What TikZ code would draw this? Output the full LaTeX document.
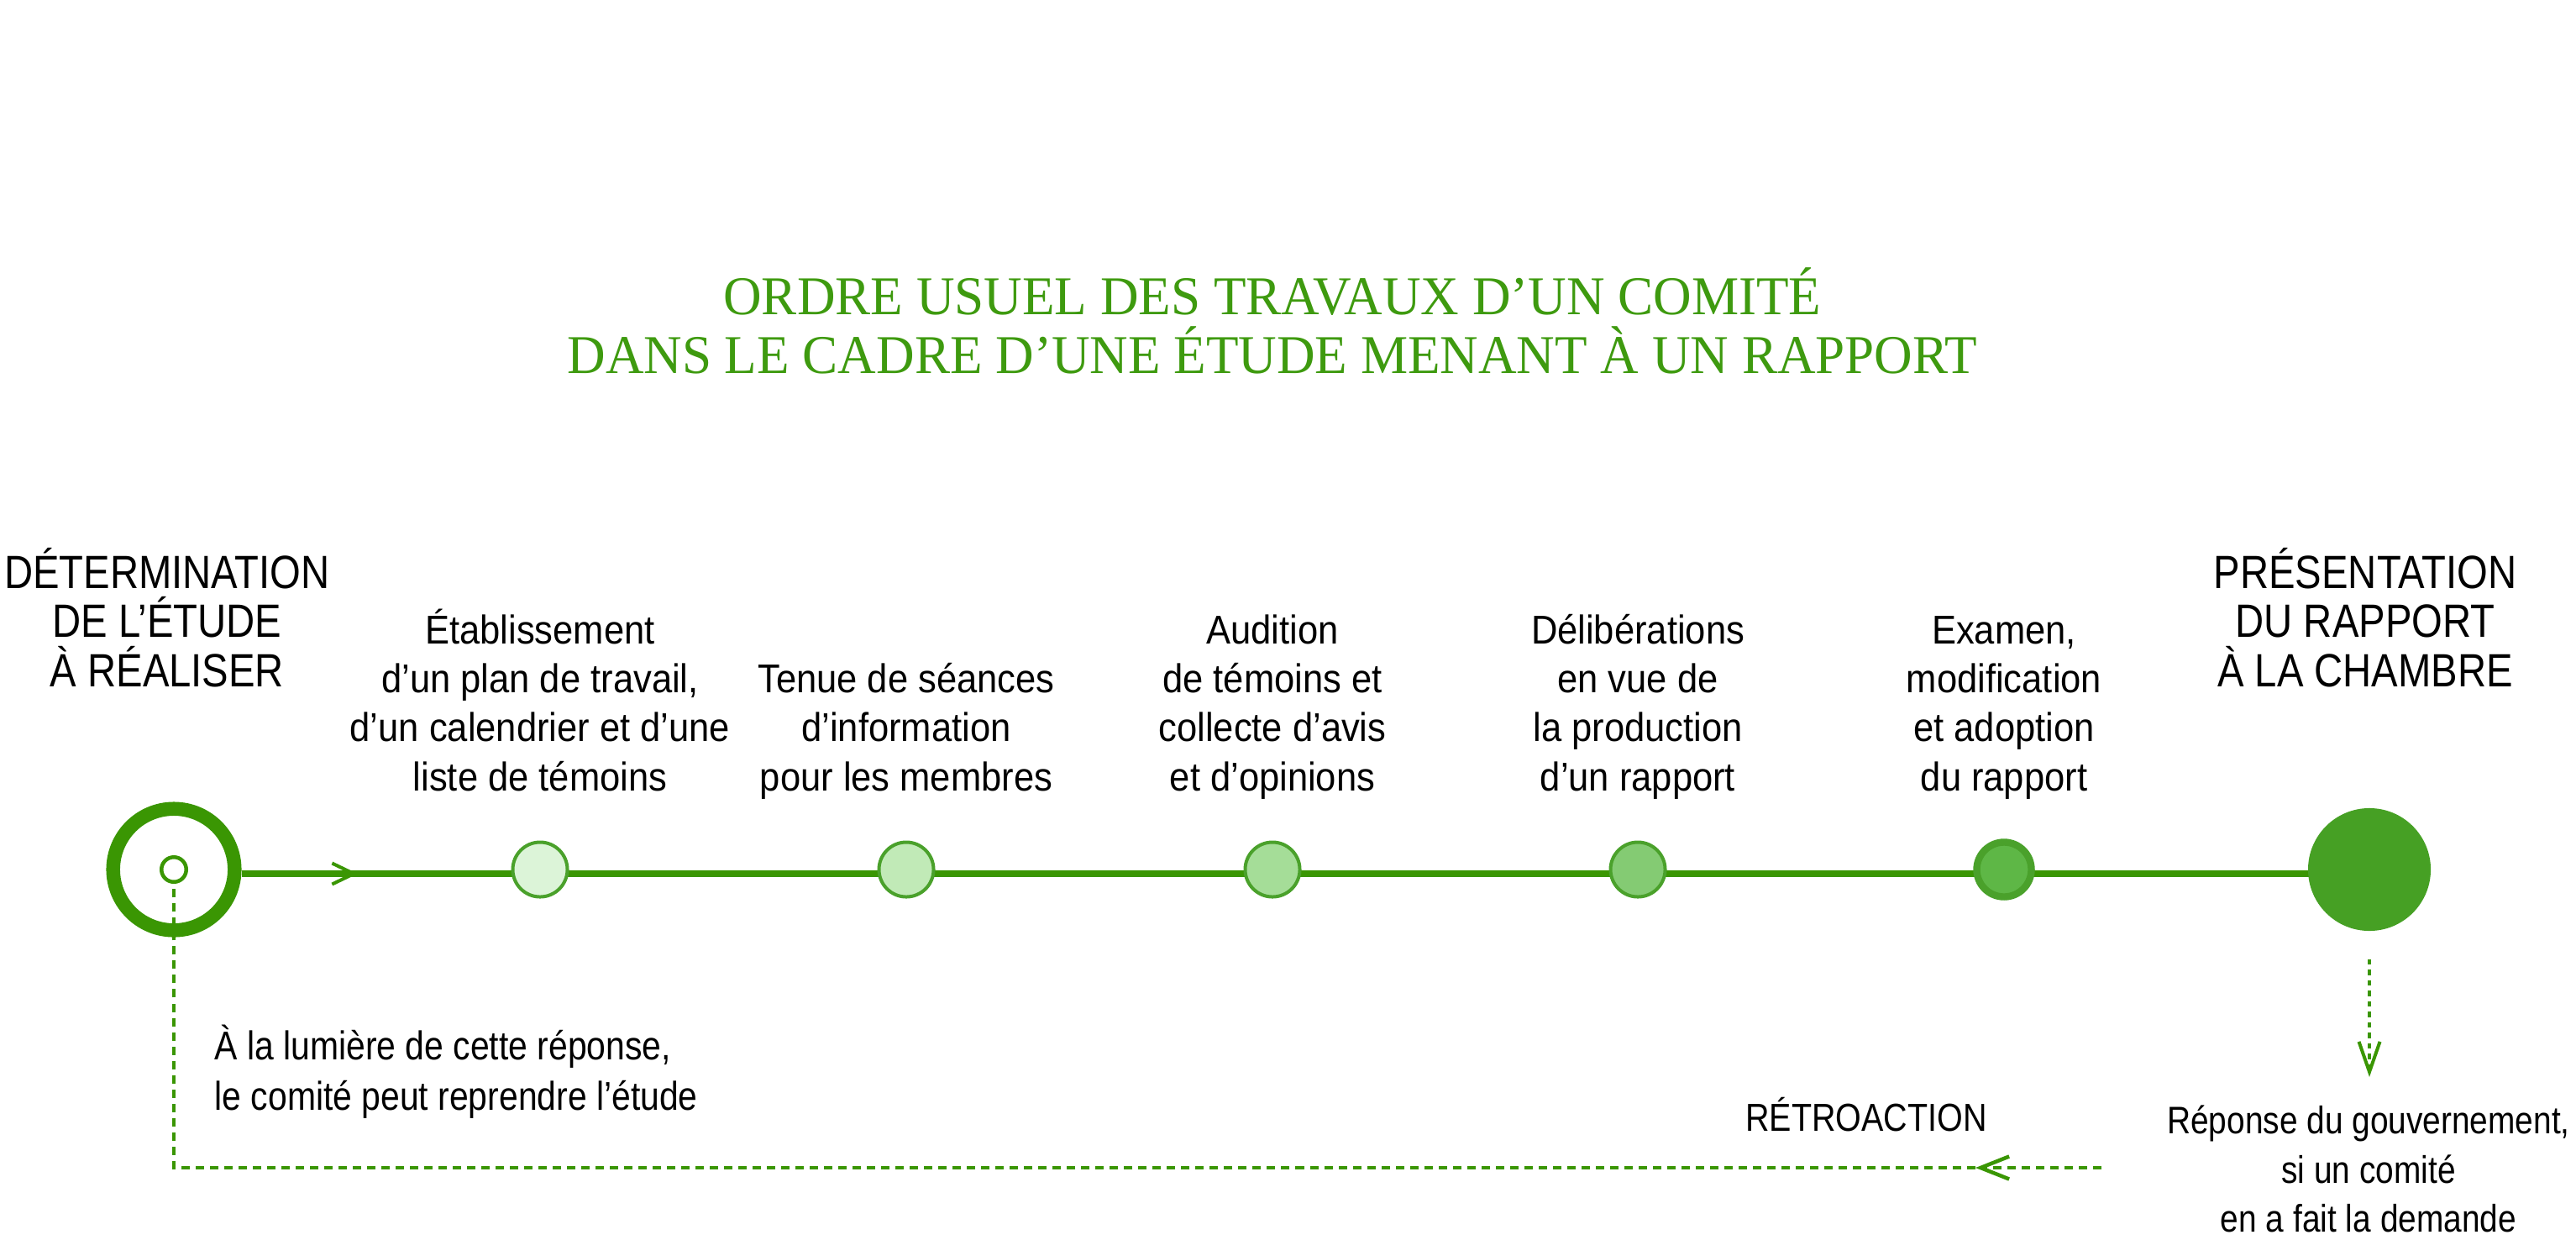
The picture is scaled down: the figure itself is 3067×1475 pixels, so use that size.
\documentclass[tikz,border=0pt]{standalone}
\usepackage{fontspec}
\setmainfont[FakeStretch=0.91]{Liberation Sans}
\newfontfamily\notefont[FakeStretch=0.855]{Liberation Sans}
\newfontfamily\headfont[FakeStretch=0.85]{Liberation Sans}
\newfontfamily\titlefont[FakeStretch=0.97]{Liberation Serif}
\usetikzlibrary{arrows.meta,backgrounds}
\definecolor{linegreen}{HTML}{3A9603}
\definecolor{rimgreen}{HTML}{4AA12B}
\definecolor{titlegreen}{HTML}{3E9A0F}
\definecolor{stepa}{HTML}{DCF4D8}
\definecolor{stepb}{HTML}{C1EAB7}
\definecolor{stepc}{HTML}{A5DD98}
\definecolor{stepd}{HTML}{84CB73}
\definecolor{stepe}{HTML}{5EB746}
\definecolor{bigdot}{HTML}{46A024}
\begin{document}
\begin{tikzpicture}[x=0.01cm,y=-0.01cm,
    mainline/.style={line width=0.08cm,linegreen},
    fbline/.style={line width=0.045cm,linegreen,dash pattern=on 0.1cm off 0.07cm},
    steptext/.style={align=center,inner sep=0pt,anchor=base,font=\fontsize{13.6}{16.5}\selectfont},
    headtext/.style={align=center,inner sep=0pt,anchor=base,font=\headfont\fontsize{15.8}{16.6}\selectfont},
    stepdot/.style={circle,draw=rimgreen,line width=0.04cm,minimum size=0.65cm,inner sep=0pt},
    barb/.style={-{Straight Barb[length=0.26cm,width=0.25cm,line width=0.04cm]}}]
    \useasboundingbox (0,0) rectangle (3067,1475);

    % title
    \node[titlegreen,align=center,inner sep=0pt,anchor=base,font=\titlefont\fontsize{18.5}{19.9}\selectfont] (title) at (1515,444)
        {ORDRE USUEL DES TRAVAUX D’UN COMITÉ\\DANS LE CADRE D’UNE ÉTUDE MENANT À UN RAPPORT};

    % steps along the line
    \node[circle,draw=linegreen,line width=0.165cm,minimum size=1.445cm,inner sep=0pt] (seed) at (207,1035) {};
    \node[circle,draw=linegreen,line width=0.045cm,minimum size=0.295cm,inner sep=0pt,fill=white] (seedcore) at (207,1035) {};
    \foreach \x/\col [count=\i] in {643/stepa,1079/stepb,1515/stepc,1950/stepd}
        \node[stepdot,fill=\col] (c\i) at (\x,1035) {};
    \node[stepdot,fill=stepe,line width=0.084cm] (c5) at (2386,1035) {};
    \node[circle,fill=bigdot,minimum size=1.46cm,inner sep=0pt] (pres) at (2821,1035) {};
    \coordinate (fwd) at (426,1040);

    \begin{scope}[on background layer]
        \draw[mainline] ([yshift=-.05cm]seed.east) -- ([yshift=-.05cm]c1.center);
        \foreach \a/\b in {c1/c2,c2/c3,c3/c4,c4/c5,c5/pres}
            \draw[mainline] ([yshift=-.05cm]\a.center) -- ([yshift=-.05cm]\b.center);
    \end{scope}
    \draw[mainline,barb] ([xshift=-0.3cm]fwd) -- (fwd);

    % labels
    \node[headtext] (determ) at (199,817) {DÉTERMINATION\\DE L’ÉTUDE\\À RÉALISER};
    \node[steptext] (t1) at (643,941) {Établissement\\d’un plan de travail,\\d’un calendrier et d’une\\liste de témoins};
    \node[steptext] (t2) at (1079,941) {Tenue de séances\\d’information\\pour les membres};
    \node[steptext] (t3) at (1515,941) {Audition\\de témoins et\\collecte d’avis\\et d’opinions};
    \node[steptext] (t4) at (1950,941) {Délibérations\\en vue de\\la production\\d’un rapport};
    \node[steptext] (t5) at (2386,941) {Examen,\\modification\\et adoption\\du rapport};
    \node[headtext] (presl) at (2816,817) {PRÉSENTATION\\DU RAPPORT\\À LA CHAMBRE};

    % response and feedback
    \node[steptext,font=\headfont\fontsize{13}{16.5}\selectfont] (resp) at (2820,1466) {Réponse du gouvernement,\\si un comité\\en a fait la demande};
    \node[headtext,font=\headfont\fontsize{13.2}{16}\selectfont] (retro) at (2222,1346) {RÉTROACTION};
    \node[steptext,font=\notefont\fontsize{13.6}{17}\selectfont,align=left,anchor=base west] (light) at (255,1321) {À la lumière de cette réponse,\\le comité peut reprendre l’étude};
    \coordinate (downtip) at (2821,1282);
    \coordinate (fbstart) at (2502,1390);
    \coordinate (fbtip) at (2352,1390);
    \coordinate (fbcorner) at (207,1390);

    \draw[linegreen,line width=0.04cm,dash pattern=on 0.065cm off 0.06cm,-{Straight Barb[length=0.36cm,width=0.25cm,line width=0.04cm]}]
        ([yshift=-0.33cm]pres.south) -- (downtip);
    \draw[fbline,-{Straight Barb[length=0.34cm,width=0.27cm,line width=0.045cm]}] (fbstart) -- (fbtip);
    \draw[fbline] (fbtip) -- (fbcorner) -- (seedcore.south);
\end{tikzpicture}
\end{document}
